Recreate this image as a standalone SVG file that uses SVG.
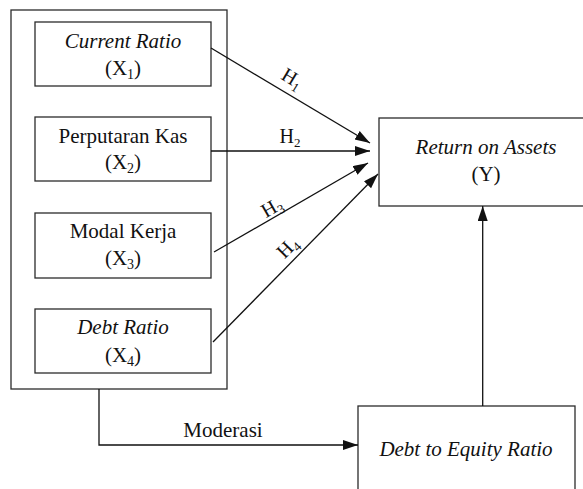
<svg xmlns="http://www.w3.org/2000/svg" width="583" height="489" viewBox="0 0 583 489">
<defs>
<marker id="ah" markerWidth="16" markerHeight="11" refX="15" refY="5" orient="auto" markerUnits="userSpaceOnUse">
<path d="M0,0 L15,5 L0,10 z" fill="#111"/>
</marker>
</defs>
<rect width="583" height="489" fill="#fff"/>
<g id="outer"><rect fill="#fff" stroke="#2b2b2b" stroke-width="1.3" x="11" y="10" width="216" height="379"/></g>
<g id="x1"><rect fill="#fff" stroke="#2b2b2b" stroke-width="1.3" x="35" y="22" width="176" height="64"/>
<text font-family="Liberation Serif" font-size="21" text-anchor="middle" fill="#111" font-style="italic" x="123" y="48">Current Ratio</text>
<text font-family="Liberation Serif" font-size="21" text-anchor="middle" fill="#111" x="123" y="75">(X<tspan font-size="14" dy="4">1</tspan><tspan dy="-4">)</tspan></text></g>
<g id="x2"><rect fill="#fff" stroke="#2b2b2b" stroke-width="1.3" x="35" y="117" width="176" height="64"/>
<text font-family="Liberation Serif" font-size="21" text-anchor="middle" fill="#111" x="123" y="143">Perputaran Kas</text>
<text font-family="Liberation Serif" font-size="21" text-anchor="middle" fill="#111" x="123" y="169">(X<tspan font-size="14" dy="4">2</tspan><tspan dy="-4">)</tspan></text></g>
<g id="x3"><rect fill="#fff" stroke="#2b2b2b" stroke-width="1.3" x="35" y="213" width="176" height="65"/>
<text font-family="Liberation Serif" font-size="21" text-anchor="middle" fill="#111" x="123" y="238">Modal Kerja</text>
<text font-family="Liberation Serif" font-size="21" text-anchor="middle" fill="#111" x="123" y="265">(X<tspan font-size="14" dy="4">3</tspan><tspan dy="-4">)</tspan></text></g>
<g id="x4"><rect fill="#fff" stroke="#2b2b2b" stroke-width="1.3" x="35" y="309" width="176" height="64"/>
<text font-family="Liberation Serif" font-size="21" text-anchor="middle" fill="#111" font-style="italic" x="123" y="334">Debt Ratio</text>
<text font-family="Liberation Serif" font-size="21" text-anchor="middle" fill="#111" x="123" y="362">(X<tspan font-size="14" dy="4">4</tspan><tspan dy="-4">)</tspan></text></g>
<g id="roa"><rect fill="#fff" stroke="#2b2b2b" stroke-width="1.3" x="379" y="118" width="220" height="88"/>
<text font-family="Liberation Serif" font-size="21" text-anchor="middle" fill="#111" font-style="italic" x="486" y="154">Return on Assets</text>
<text font-family="Liberation Serif" font-size="21" text-anchor="middle" fill="#111" x="486" y="181">(Y)</text></g>
<g id="der"><rect fill="#fff" stroke="#2b2b2b" stroke-width="1.3" x="358" y="406" width="217" height="100"/>
<text font-family="Liberation Serif" font-size="21" text-anchor="middle" fill="#111" font-style="italic" x="466" y="456">Debt to Equity Ratio</text></g>
<g id="connectors">
<g fill="none" stroke="#111" stroke-width="1.3">
<line x1="211" y1="48" x2="370" y2="143" marker-end="url(#ah)"/>
<line x1="211" y1="151" x2="370" y2="151" marker-end="url(#ah)"/>
<line x1="214" y1="252" x2="368" y2="163" marker-end="url(#ah)"/>
<line x1="213" y1="342" x2="378" y2="174" marker-end="url(#ah)"/>
<line x1="482.7" y1="406" x2="482.7" y2="206" marker-end="url(#ah)"/>
<polyline points="99,389 99,445 358,445" marker-end="url(#ah)"/>
</g>
<text font-family="Liberation Serif" font-size="20" text-anchor="middle" fill="#111" transform="translate(289,84) rotate(31)">H<tspan font-size="13" dy="4">1</tspan></text>
<text font-family="Liberation Serif" font-size="20" text-anchor="middle" fill="#111" x="290" y="143">H<tspan font-size="13" dy="4">2</tspan></text>
<text font-family="Liberation Serif" font-size="20" text-anchor="middle" fill="#111" transform="translate(275,213) rotate(-30)">H<tspan font-size="13" dy="4">3</tspan></text>
<text font-family="Liberation Serif" font-size="20" text-anchor="middle" fill="#111" transform="translate(292,252) rotate(-45)">H<tspan font-size="13" dy="4">4</tspan></text>
<text font-family="Liberation Serif" font-size="21" text-anchor="middle" fill="#111" x="223" y="437">Moderasi</text>
</g>
</svg>
